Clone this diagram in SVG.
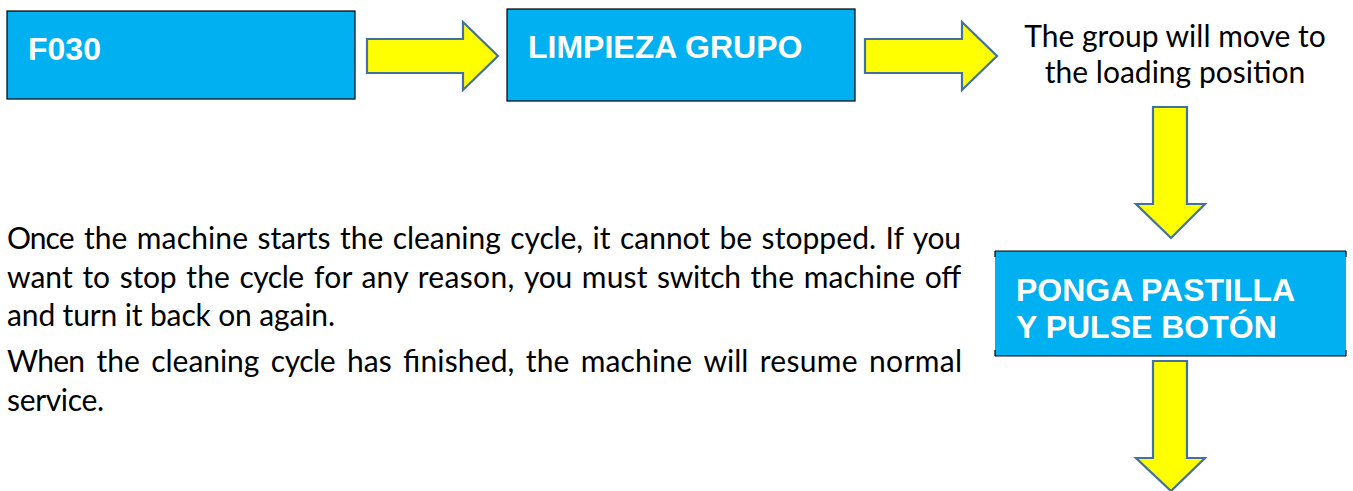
<svg xmlns="http://www.w3.org/2000/svg" width="1353" height="491" viewBox="0 0 1353 491">
  <style>
    .box { fill: #00B0F0; stroke: #000000; stroke-width: 1.2; }
    .boxtxt { font-family: "Liberation Sans", Arial, sans-serif; font-weight: bold; font-size: 32px; fill: #FFFFFF; }
    .arrow { fill: #FFFF00; stroke: #41719C; stroke-width: 2.2; stroke-linejoin: miter; }
    .body { font-family: Lato, "Open Sans", sans-serif; font-size: 30px; fill: #000000; }
    tspan { }
  </style>
  <rect width="1353" height="491" fill="#FFFFFF"/>

  <g id="connectors">
    <polygon class="arrow" points="367,39 463,39 463,22 498,56 463,90 463,73 367,73"/>
    <polygon class="arrow" points="865,39 962,39 962,22 997,56 962,90 962,73 865,73"/>
    <polygon class="arrow" points="1153,107 1187,107 1187,204 1205,204 1171,238 1136,204 1153,204"/>
    <polygon class="arrow" points="1153,361 1187,361 1187,458 1205,458 1171,491 1136,458 1153,458"/>
  </g>

  <g id="node-f030">
    <rect class="box" x="7" y="11" width="348" height="88"/>
    <text class="boxtxt" x="28" y="60">F030</text>
  </g>

  <g id="node-limpieza">
    <rect class="box" x="507" y="9" width="348" height="92"/>
    <text class="boxtxt" x="528" y="58">LIMPIEZA GRUPO</text>
  </g>

  <g id="node-move">
    <text class="body" text-anchor="middle" x="1175" y="47">The group will move to</text>
    <text class="body" text-anchor="middle" x="1175" y="83">the loading position</text>
  </g>

  <g id="node-ponga">
    <rect x="995" y="251" width="351" height="105" fill="#00B0F0"/>
    <path d="M995,251 H1346 M995,356 H1346 M995,251 V257 M995,350 V356 M1346,251 V257 M1346,350 V356" stroke="#000000" stroke-width="1.2" fill="none"/>
    <text class="boxtxt" x="1016" y="301">PONGA PASTILLA</text>
    <text class="boxtxt" x="1016" y="338">Y PULSE BOTÓN</text>
  </g>

  <g id="note">
    <text class="body" y="249"><tspan x="7" textLength="67.5" lengthAdjust="spacing">Once</tspan> <tspan x="83.9" textLength="43.5" lengthAdjust="spacing">the</tspan> <tspan x="136.8" textLength="111.3" lengthAdjust="spacing">machine</tspan> <tspan x="257.5" textLength="73" lengthAdjust="spacing">starts</tspan> <tspan x="339.9" textLength="43.5" lengthAdjust="spacing">the</tspan> <tspan x="392.7" textLength="108.1" lengthAdjust="spacing">cleaning</tspan> <tspan x="510.3" textLength="72.8" lengthAdjust="spacing">cycle,</tspan> <tspan x="592.5" textLength="18.1" lengthAdjust="spacing">it</tspan> <tspan x="620" textLength="90.1" lengthAdjust="spacing">cannot</tspan> <tspan x="719.5" textLength="32.7" lengthAdjust="spacing">be</tspan> <tspan x="761.6" textLength="114.5" lengthAdjust="spacing">stopped.</tspan> <tspan x="885.6" textLength="17.8" lengthAdjust="spacing">If</tspan> <tspan x="912.8" textLength="48.2" lengthAdjust="spacing">you</tspan></text>
    <text class="body" y="288"><tspan x="7" textLength="65.7" lengthAdjust="spacing">want</tspan> <tspan x="82.4" textLength="27.6" lengthAdjust="spacing">to</tspan> <tspan x="119.7" textLength="56.9" lengthAdjust="spacing">stop</tspan> <tspan x="186.3" textLength="43.5" lengthAdjust="spacing">the</tspan> <tspan x="239.4" textLength="64.8" lengthAdjust="spacing">cycle</tspan> <tspan x="313.9" textLength="37.8" lengthAdjust="spacing">for</tspan> <tspan x="361.4" textLength="46.6" lengthAdjust="spacing">any</tspan> <tspan x="417.7" textLength="96.6" lengthAdjust="spacing">reason,</tspan> <tspan x="524" textLength="48.2" lengthAdjust="spacing">you</tspan> <tspan x="581.8" textLength="65.6" lengthAdjust="spacing">must</tspan> <tspan x="657.1" textLength="83.8" lengthAdjust="spacing">switch</tspan> <tspan x="750.5" textLength="43.5" lengthAdjust="spacing">the</tspan> <tspan x="803.7" textLength="111.3" lengthAdjust="spacing">machine</tspan> <tspan x="924.7" textLength="36.4" lengthAdjust="spacing">off</tspan></text>
    <text class="body" x="7" y="326" textLength="328" lengthAdjust="spacing">and turn it back on again.</text>
    <text class="body" y="372"><tspan x="7" textLength="78" lengthAdjust="spacing">When</tspan> <tspan x="96.4" textLength="43.5" lengthAdjust="spacing">the</tspan> <tspan x="151.3" textLength="108.1" lengthAdjust="spacing">cleaning</tspan> <tspan x="270.8" textLength="64.8" lengthAdjust="spacing">cycle</tspan> <tspan x="347.1" textLength="44.6" lengthAdjust="spacing">has</tspan> <tspan x="403.1" textLength="111.3" lengthAdjust="spacing">finished,</tspan> <tspan x="525.8" textLength="43.5" lengthAdjust="spacing">the</tspan> <tspan x="580.7" textLength="111.3" lengthAdjust="spacing">machine</tspan> <tspan x="703.4" textLength="44.9" lengthAdjust="spacing">will</tspan> <tspan x="759.7" textLength="97.9" lengthAdjust="spacing">resume</tspan> <tspan x="869" textLength="93.1" lengthAdjust="spacing">normal</tspan></text>
    <text class="body" x="7" y="411" textLength="97" lengthAdjust="spacing">service.</text>
  </g>
</svg>
